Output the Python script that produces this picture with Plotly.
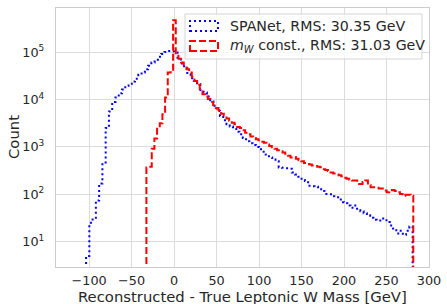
import numpy as np
import plotly.graph_objects as go

# Histogram binning (100 bins each)
spanet_range = (-103.6, 280.7)
mw_range = (-32.6, 281.5)

spanet_counts = [5, 25, 32, 74, 170, 470, 2500, 5600, 8900, 11000,
                 13500, 16200, 19500, 21400, 24000, 27500, 33100, 37200, 43600, 51300,
                 60300, 69200, 79400, 91200, 100000, 105000, 103000, 97700, 75900, 57500,
                 45700, 33900, 28200, 24500, 20900, 15800, 14100, 11500, 9120, 7410,
                 5750, 4470, 3630, 3020, 2690, 2400, 2090, 1860, 1550, 1320,
                 1200, 1100, 1000, 890, 795, 690, 600, 540, 500, 370,
                 363, 355, 347, 288, 263, 234, 200, 190, 151, 148,
                 145, 141, 117, 102, 100, 91, 87, 87, 68, 65,
                 58, 52, 58, 46, 44, 40, 36, 32, 29, 28,
                 28, 31, 26, 22, 19, 15, 17, 14, 17, 21]

mw_counts = [370, 380, 910, 1510, 2570, 3160, 4900, 11000, 37000, 37500,
             468000, 89100, 72400, 60300, 52500, 43700, 37200, 30200, 24500, 20400,
             16600, 12900, 11500, 10200, 8900, 7590, 6610, 6030, 5010, 4570,
             3980, 3550, 3240, 3020, 2630, 2510, 2240, 2000, 1860, 1660,
             1550, 1450, 1380, 1290, 1230, 1120, 1050, 980, 910, 850,
             810, 760, 720, 650, 600, 615, 560, 525, 500, 457,
             437, 427, 407, 398, 380, 372, 339, 324, 309, 288,
             275, 263, 251, 240, 224, 214, 204, 195, 195, 166,
             166, 182, 195, 158, 141, 141, 138, 132, 132, 120,
             110, 115, 123, 117, 110, 102, 93, 98, 98, 93]

labels = ["SPANet, RMS: 30.35 GeV", "<i>m</i><sub><i>W</i></sub> const., RMS: 31.03 GeV"]
x_title = "Reconstructed - True Leptonic W Mass [GeV]"
y_title = "Count"
x_ticks = [-100, -50, 0, 50, 100, 150, 200, 250, 300]
y_ticks = [10, 100, 1000, 10000, 100000]
y_ticktext = ["10<sup>1</sup>", "10<sup>2</sup>", "10<sup>3</sup>", "10<sup>4</sup>", "10<sup>5</sup>"]


def step_outline(rng, counts):
    edges = np.linspace(rng[0], rng[1], len(counts) + 1)
    floor = 0.01
    xs = [edges[0]] + list(edges[:-1]) + [edges[-1]]
    ys = [floor] + list(counts) + [floor]
    return xs, ys


fig = go.Figure()
xs, ys = step_outline(spanet_range, spanet_counts)
fig.add_trace(go.Scatter(x=xs, y=ys, mode="lines", line_shape="hv",
                         line=dict(color="#0000ff", width=2, dash="2px,3px"),
                         showlegend=False, hoverinfo="skip"))
xs, ys = step_outline(mw_range, mw_counts)
fig.add_trace(go.Scatter(x=xs, y=ys, mode="lines", line_shape="hv",
                         line=dict(color="#ff0000", width=2, dash="7px,3px"),
                         showlegend=False, hoverinfo="skip"))

W, H = 447, 304
L, R, T, B = 56, 18, 8, 37
pw, ph = W - L - R, H - T - B


def px(x):
    return (x - L) / pw


def py(y):
    return 1 - (y - T) / ph


TXT = "#262626"
shapes = []
# legend frame
shapes.append(dict(type="rect", xref="paper", yref="paper",
                   x0=px(185), x1=px(422), y0=py(59), y1=py(14),
                   line=dict(color="#d5d5d5", width=1), fillcolor="rgba(255,255,255,0.8)",
                   layer="above"))
shapes.append(dict(type="rect", xref="paper", yref="paper",
                   x0=px(190), x1=px(218), y0=py(31), y1=py(21),
                   line=dict(color="#0000ff", width=2, dash="2px,3px"), layer="above"))
shapes.append(dict(type="rect", xref="paper", yref="paper",
                   x0=px(190), x1=px(218), y0=py(51), y1=py(41),
                   line=dict(color="#ff0000", width=2, dash="7px,3px"), layer="above"))

annotations = []
for lab, yc in zip(labels, [26, 45.5]):
    annotations.append(dict(xref="paper", yref="paper", x=px(228), y=py(yc),
                            text=lab, showarrow=False, xanchor="left", yanchor="middle",
                            font=dict(size=14.2, color=TXT)))
annotations.append(dict(xref="paper", yref="paper", x=px(242), y=py(296.5),
                        text=x_title, showarrow=False, xanchor="center", yanchor="middle",
                        font=dict(size=14.8, color=TXT)))
annotations.append(dict(xref="paper", yref="paper", x=px(13.5), y=py(137.5),
                        text=y_title, showarrow=False, xanchor="center", yanchor="middle",
                        textangle=-90, font=dict(size=14.8, color=TXT)))

fig.update_layout(
    width=W, height=H, autosize=False,
    margin=dict(l=L, r=R, t=T, b=B, autoexpand=False),
    paper_bgcolor="white", plot_bgcolor="white",
    font=dict(family="DejaVu Sans", size=12.8, color=TXT),
    shapes=shapes, annotations=annotations,
    showlegend=False, hovermode=False,
)
fig.update_xaxes(range=[-139, 300], tickvals=x_ticks, automargin=False,
                 tickfont=dict(size=12.8),
                 showgrid=True, gridcolor="#dcdcdc", gridwidth=1,
                 showline=True, linecolor="#cccccc", linewidth=1.2, mirror=True,
                 zeroline=False, ticks="", ticklabelstandoff=1)
fig.update_yaxes(type="log", range=[0.467, 5.93], tickvals=y_ticks, ticktext=y_ticktext,
                 automargin=False, tickfont=dict(size=12.8),
                 showgrid=True, gridcolor="#dcdcdc", gridwidth=1,
                 showline=True, linecolor="#cccccc", linewidth=1.2, mirror=True,
                 zeroline=False, ticks="outside", ticklen=8, tickcolor="rgba(0,0,0,0)")

fig.write_html("out.html", config={"displayModeBar": False, "staticPlot": True},
               post_script="document.body.style.margin='0';")
